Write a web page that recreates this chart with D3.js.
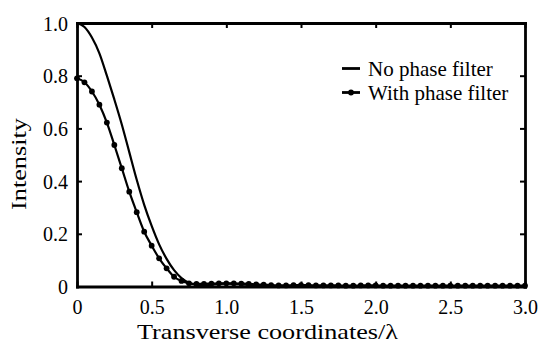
<!DOCTYPE html>
<html>
<head>
  <meta charset="utf-8">
  <title>Intensity vs transverse coordinates</title>
  <script src="https://d3js.org/d3.v7.min.js"></script>
  <style>
    body { margin: 0; background: #fff; }
    svg text { fill: #000; }
  </style>
</head>
<body>
  <div id="chart"></div>
  <script>
    // x positions (units of lambda)
    var xNoFilter = [0, 0.05, 0.1, 0.15, 0.2, 0.25, 0.3, 0.35, 0.4, 0.45, 0.5, 0.55, 0.6, 0.65, 0.7, 0.75,
      0.8, 0.85, 0.9, 0.95, 1.0, 1.05, 1.1, 1.15, 1.2, 1.25, 1.3, 1.4, 1.6, 2.0, 2.5, 3.0];
    var noFilter = [1.0, 0.985, 0.945, 0.885, 0.8, 0.71, 0.615, 0.51, 0.405, 0.31, 0.23, 0.16, 0.105, 0.062, 0.032, 0.014,
      0.006, 0.004, 0.007, 0.01, 0.011, 0.01, 0.008, 0.006, 0.004, 0.002, 0.001, 0, 0.001, 0, 0, 0];

    var xWithFilter = [0, 0.05, 0.1, 0.15, 0.2, 0.25, 0.3, 0.35, 0.4, 0.45, 0.5, 0.55, 0.6, 0.65, 0.7, 0.75,
      0.8, 0.85, 0.9, 0.95, 1.0, 1.05, 1.1, 1.15, 1.2, 1.25, 1.3, 1.35, 1.4, 1.45, 1.5, 1.55, 1.6, 1.65, 1.7,
      1.75, 1.8, 1.85, 1.9, 1.95, 2.0, 2.05, 2.1, 2.15, 2.2, 2.25, 2.3, 2.35, 2.4, 2.45, 2.5, 2.55, 2.6, 2.65,
      2.7, 2.75, 2.8, 2.85, 2.9, 2.95, 3.0];
    var withFilter = [0.79, 0.775, 0.74, 0.69, 0.622, 0.537, 0.449, 0.36, 0.282, 0.208, 0.155, 0.107, 0.069, 0.037, 0.021, 0.012,
      0.01, 0.01, 0.011, 0.012, 0.012, 0.012, 0.011, 0.01, 0.008, 0.007, 0.005, 0.004, 0.004, 0.005, 0.005, 0.005, 0.004, 0.004, 0.004,
      0.004, 0.003, 0.003, 0.004, 0.004, 0.004, 0.003, 0.003, 0.003, 0.003, 0.003, 0.003, 0.003, 0.003, 0.003, 0.003, 0.003, 0.003, 0.003,
      0.003, 0.003, 0.003, 0.003, 0.003, 0.003, 0.003];

    var xTicks = [0, 0.5, 1.0, 1.5, 2.0, 2.5, 3.0];
    var xTickLabels = ["0", "0.5", "1.0", "1.5", "2.0", "2.5", "3.0"];
    var yTicks = [0, 0.2, 0.4, 0.6, 0.8, 1.0];
    var yTickLabels = ["0", "0.2", "0.4", "0.6", "0.8", "1.0"];
    var seriesNames = ["No phase filter", "With phase filter"];

    var width = 538, height = 347;
    var mLeft = 77, mRight = 525, mTop = 23, mBottom = 286.5;
    var serif = "'Liberation Serif'";

    var x = d3.scaleLinear().domain([0, 3]).range([mLeft, mRight]);
    var y = d3.scaleLinear().domain([0, 1]).range([mBottom, mTop]);

    var svg = d3.select("#chart").append("svg")
      .attr("width", width)
      .attr("height", height)
      .attr("font-family", serif);

    var line = d3.line()
      .x(function (d) { return x(d[0]); })
      .y(function (d) { return y(d[1]); })
      .curve(d3.curveMonotoneX);

    var solidData = d3.zip(xNoFilter, noFilter);
    var dotData = d3.zip(xWithFilter, withFilter);

    svg.append("path")
      .attr("d", line(solidData))
      .attr("fill", "none")
      .attr("stroke", "#000")
      .attr("stroke-width", 2.2);

    svg.append("path")
      .attr("d", line(dotData))
      .attr("fill", "none")
      .attr("stroke", "#000")
      .attr("stroke-width", 2.2);

    svg.append("g").selectAll("circle")
      .data(dotData)
      .enter().append("circle")
      .attr("cx", function (d) { return x(d[0]); })
      .attr("cy", function (d) { return y(d[1]); })
      .attr("r", 2.9)
      .attr("fill", "#000");

    // axes, ticks inward on all four sides
    var axisW = 2.8;
    function styleAxis(g) {
      g.attr("font-family", serif);
      g.select(".domain").attr("stroke", "#000").attr("stroke-width", axisW)
        .attr("stroke-linecap", "square");
      g.selectAll(".tick line").attr("stroke", "#000").attr("stroke-width", 2);
      g.selectAll("text").attr("font-size", 20).attr("font-family", serif);
    }

    svg.append("g")
      .attr("transform", "translate(0," + mBottom + ")")
      .call(d3.axisBottom(x).tickValues(xTicks).tickSizeInner(-5).tickSizeOuter(0)
        .tickFormat(function (d, i) { return xTickLabels[i]; }))
      .call(styleAxis)
      .selectAll("text").attr("dy", null).attr("y", 27);

    svg.append("g")
      .attr("transform", "translate(0," + mTop + ")")
      .call(d3.axisTop(x).tickValues(xTicks).tickSizeInner(-5).tickSizeOuter(0).tickFormat(""))
      .call(styleAxis);

    svg.append("g")
      .attr("transform", "translate(" + mLeft + ",0)")
      .call(d3.axisLeft(y).tickValues(yTicks).tickSizeInner(-5).tickSizeOuter(0)
        .tickFormat(function (d, i) { return yTickLabels[i]; }))
      .call(styleAxis)
      .selectAll("text").attr("x", -9).attr("dy", "0.35em");

    svg.append("g")
      .attr("transform", "translate(" + mRight + ",0)")
      .call(d3.axisRight(y).tickValues(yTicks).tickSizeInner(-5).tickSizeOuter(0).tickFormat(""))
      .call(styleAxis);

    // axis titles
    svg.append("text")
      .attr("x", 137)
      .attr("y", 339)
      .attr("textLength", 261)
      .attr("lengthAdjust", "spacingAndGlyphs")
      .attr("font-size", 21)
      .text("Transverse coordinates/\u03bb");

    svg.append("text")
      .attr("transform", "translate(26,210) rotate(-90)")
      .attr("textLength", 92)
      .attr("lengthAdjust", "spacingAndGlyphs")
      .attr("font-size", 21)
      .text("Intensity");

    // legend
    var legend = svg.append("g");
    seriesNames.forEach(function (name, i) {
      var ly = 68.5 + i * 24;
      legend.append("line")
        .attr("x1", 342).attr("x2", 360)
        .attr("y1", ly).attr("y2", ly)
        .attr("stroke", "#000").attr("stroke-width", 2.8);
      if (i === 1) {
        legend.append("circle").attr("cx", 351).attr("cy", ly).attr("r", 2.9).attr("fill", "#000");
      }
      legend.append("text")
        .attr("x", 368)
        .attr("y", ly + 7)
        .attr("font-size", 21)
        .text(name);
    });
  </script>
</body>
</html>
